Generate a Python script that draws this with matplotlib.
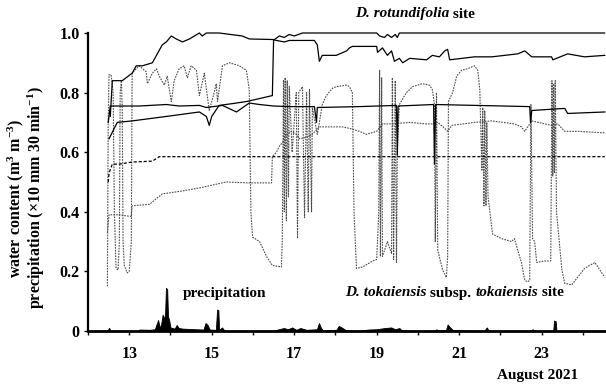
import matplotlib
matplotlib.use('Agg')
import matplotlib.pyplot as plt

plt.rcParams['font.family'] = 'serif'
plt.rcParams['font.serif'] = ['Liberation Serif']
plt.rcParams['font.weight'] = 'bold'
plt.rcParams['mathtext.fontset'] = 'custom'
plt.rcParams['mathtext.rm'] = 'Liberation Serif:bold'
plt.rcParams['mathtext.it'] = 'Liberation Serif:italic:bold'
plt.rcParams['mathtext.bf'] = 'Liberation Serif:bold'
plt.rcParams['mathtext.default'] = 'rm'

# (day of August 2021, value)
# D. rotundifolia site - solid lines
rot_top = [(12.54, 0.72), (12.59, 0.84), (12.83, 0.84), (13.07, 0.865), (13.17, 0.89), (13.32, 0.89),
           (13.56, 0.90), (13.68, 0.93), (13.80, 0.96), (13.90, 0.97), (14.02, 0.99), (14.14, 0.98),
           (14.29, 0.97), (14.46, 0.98), (14.70, 1.0), (14.77, 0.99), (14.87, 1.0), (15.18, 1.0),
           (15.74, 0.99), (15.91, 0.98), (16.52, 0.978), (16.64, 0.99), (16.76, 0.985), (16.88, 0.995),
           (17.00, 0.99), (17.20, 1.0), (19.00, 1.0), (19.07, 0.99), (19.19, 0.985), (19.26, 0.995),
           (19.36, 0.985), (19.45, 0.995), (19.50, 0.985), (19.55, 1.0), (24.53, 1.0)]
rot_step = [(12.51, 0.645), (12.71, 0.70), (13.07, 0.705), (13.90, 0.72), (14.70, 0.735), (14.87, 0.72),
            (14.94, 0.69), (15.00, 0.72), (15.18, 0.757), (15.50, 0.763), (15.84, 0.77), (16.16, 0.78),
            (16.47, 0.79), (16.50, 0.977), (16.57, 0.975), (16.76, 0.97), (16.88, 0.975), (17.05, 0.975),
            (17.49, 0.975), (17.56, 0.96), (17.61, 0.905), (17.68, 0.925), (18.02, 0.925), (18.27, 0.94),
            (18.34, 0.95), (18.41, 0.955), (19.00, 0.955), (19.02, 0.935), (19.14, 0.95), (19.26, 0.925),
            (19.36, 0.94), (19.43, 0.905), (19.55, 0.915), (19.63, 0.90), (19.80, 0.915), (20.21, 0.91),
            (20.35, 0.925), (20.52, 0.92), (20.65, 0.94), (20.72, 0.945), (20.77, 0.91), (21.37, 0.92),
            (21.79, 0.92), (22.42, 0.93), (22.59, 0.94), (22.76, 0.92), (23.24, 0.92), (23.27, 0.91),
            (23.63, 0.93), (24.04, 0.92), (24.53, 0.925)]
rot_mid = [(12.49, 0.70), (12.54, 0.755), (13.24, 0.755), (13.90, 0.76), (14.21, 0.755), (14.70, 0.757),
           (14.87, 0.75), (15.26, 0.757), (15.60, 0.735), (15.91, 0.765), (16.16, 0.76), (16.50, 0.755),
           (16.88, 0.753), (17.49, 0.753), (17.54, 0.70), (17.56, 0.75), (18.58, 0.753), (19.48, 0.757),
           (19.50, 0.59), (19.52, 0.755), (20.38, 0.76), (20.40, 0.56), (20.43, 0.76), (22.71, 0.753),
           (22.73, 0.70), (22.76, 0.74), (23.56, 0.747), (23.63, 0.73), (24.53, 0.735)]

# D. tokaiensis subsp. tokaiensis site - dotted lines
tok_flat = [(12.49, 0.50), (12.51, 0.53), (12.59, 0.56), (12.76, 0.56), (13.07, 0.567), (13.56, 0.57),
            (13.73, 0.585), (24.53, 0.585)]
tok_low = [(12.47, 0.33), (12.51, 0.39), (12.76, 0.39), (13.00, 0.385), (13.05, 0.385), (13.07, 0.42),
           (13.49, 0.425), (13.80, 0.46), (14.29, 0.47), (14.70, 0.48), (15.35, 0.50), (15.91, 0.497),
           (16.45, 0.497), (16.47, 0.585), (16.57, 0.60), (16.64, 0.62), (16.76, 0.64), (16.83, 0.66),
           (16.93, 0.67), (17.05, 0.66), (17.13, 0.645), (17.30, 0.65), (17.44, 0.66), (17.61, 0.685),
           (18.17, 0.685), (18.34, 0.68), (18.58, 0.67), (18.75, 0.66), (19.00, 0.67), (19.14, 0.695),
           (19.38, 0.695), (19.80, 0.70), (20.21, 0.695), (20.40, 0.695), (20.48, 0.70), (20.65, 0.68),
           (20.72, 0.67), (20.82, 0.69), (21.37, 0.70), (21.79, 0.705), (22.34, 0.695), (22.51, 0.685),
           (22.59, 0.67), (22.76, 0.705), (23.24, 0.69), (23.39, 0.695), (23.56, 0.67), (23.87, 0.67),
           (24.53, 0.665)]
tok_swing = [(12.47, 0.15), (12.49, 0.70), (12.51, 0.86), (12.56, 0.86), (12.61, 0.80), (12.64, 0.40),
             (12.68, 0.21), (12.73, 0.205), (12.76, 0.30), (12.78, 0.80), (12.81, 0.84), (12.83, 0.75),
             (12.85, 0.30), (12.88, 0.22), (12.95, 0.195), (13.00, 0.20), (13.05, 0.30), (13.07, 0.865),
             (13.17, 0.88), (13.24, 0.89), (13.41, 0.87), (13.44, 0.83), (13.56, 0.865), (13.66, 0.88),
             (13.73, 0.855), (13.85, 0.825), (13.92, 0.855), (14.02, 0.77), (14.09, 0.84), (14.21, 0.88),
             (14.33, 0.89), (14.41, 0.85), (14.50, 0.89), (14.63, 0.875), (14.70, 0.79), (14.82, 0.865),
             (14.94, 0.74), (15.06, 0.80), (15.11, 0.83), (15.14, 0.77), (15.26, 0.89), (15.43, 0.90),
             (15.67, 0.89), (15.84, 0.875), (15.91, 0.81), (15.95, 0.40), (15.99, 0.315), (16.16, 0.30),
             (16.33, 0.25), (16.47, 0.22), (16.69, 0.215), (16.71, 0.30), (16.74, 0.84), (16.76, 0.40),
             (16.78, 0.85), (16.81, 0.37), (16.83, 0.84), (16.86, 0.45), (16.88, 0.82), (16.95, 0.60),
             (17.05, 0.80), (17.08, 0.31), (17.11, 0.80), (17.20, 0.82), (17.25, 0.38), (17.30, 0.80),
             (17.34, 0.40), (17.37, 0.81), (17.42, 0.40), (17.44, 0.75), (17.56, 0.66), (17.61, 0.70),
             (17.68, 0.76), (17.78, 0.79), (17.93, 0.815), (18.02, 0.82), (18.27, 0.825), (18.34, 0.82),
             (18.41, 0.80), (18.45, 0.40), (18.51, 0.21), (18.66, 0.215), (18.90, 0.235), (19.00, 0.24),
             (19.05, 0.40), (19.07, 0.875), (19.09, 0.25), (19.12, 0.85), (19.14, 0.25), (19.26, 0.30),
             (19.36, 0.26), (19.38, 0.85), (19.41, 0.24), (19.45, 0.84), (19.48, 0.23), (19.50, 0.60),
             (19.55, 0.76), (19.72, 0.80), (19.87, 0.82), (20.11, 0.83), (20.28, 0.825), (20.35, 0.81),
             (20.40, 0.76), (20.42, 0.30), (20.45, 0.80), (20.48, 0.27), (20.60, 0.205), (20.69, 0.18),
             (20.72, 0.25), (20.74, 0.77), (20.84, 0.80), (20.94, 0.855), (21.06, 0.875), (21.20, 0.88),
             (21.37, 0.89), (21.45, 0.875), (21.50, 0.81), (21.55, 0.54), (21.57, 0.75), (21.60, 0.42),
             (21.62, 0.74), (21.65, 0.42), (21.67, 0.70), (21.70, 0.45), (21.81, 0.325), (22.03, 0.31),
             (22.27, 0.30), (22.34, 0.31), (22.39, 0.285), (22.51, 0.23), (22.59, 0.17), (22.66, 0.165),
             (22.71, 0.17), (22.74, 0.76), (22.78, 0.31), (22.83, 0.30), (22.88, 0.23), (23.07, 0.235),
             (23.22, 0.235), (23.25, 0.84), (23.27, 0.52), (23.29, 0.83), (23.31, 0.53), (23.33, 0.84),
             (23.36, 0.40), (23.49, 0.205), (23.56, 0.16), (23.73, 0.155), (23.87, 0.18), (24.04, 0.21),
             (24.29, 0.23), (24.46, 0.195), (24.53, 0.18)]

# precipitation (x10 mm 30 min-1)
precip = [(12.47, 0), (12.51, 0.011), (12.55, 0), (13.2, 0), (13.25, 0.005), (13.5, 0.004),
          (13.62, 0.006), (13.70, 0.037), (13.74, 0.012), (13.77, 0.02), (13.81, 0.055), (13.85, 0.04),
          (13.87, 0.06), (13.89, 0.145), (13.92, 0.14), (13.94, 0.05), (13.97, 0.035), (14.0, 0.012),
          (14.10, 0.008), (14.15, 0.02), (14.2, 0.01), (14.3, 0.008), (14.6, 0.006), (14.80, 0.005),
          (14.85, 0.027), (14.9, 0.02), (14.95, 0.005), (15.10, 0.004), (15.13, 0.072), (15.16, 0.07),
          (15.18, 0.004), (15.25, 0.012), (15.3, 0.003), (15.4, 0), (16.5, 0), (16.6, 0.005),
          (16.75, 0.01), (16.85, 0.006), (16.95, 0.012), (17.05, 0.004), (17.15, 0.01), (17.3, 0.004),
          (17.55, 0.006), (17.6, 0.027), (17.65, 0.01), (17.7, 0.002), (18.02, 0.004), (18.08, 0.017),
          (18.15, 0.012), (18.25, 0.003), (18.5, 0), (18.8, 0.005), (19.0, 0.006), (19.2, 0.01),
          (19.35, 0.012), (19.45, 0.006), (19.55, 0.01), (19.6, 0.003), (19.8, 0), (20.4, 0),
          (20.45, 0.006), (20.5, 0), (20.68, 0.004), (20.72, 0.022), (20.78, 0.012), (20.85, 0.003),
          (21.6, 0), (21.67, 0.012), (21.72, 0), (22.72, 0), (22.78, 0.006), (22.85, 0), (23.28, 0),
          (23.30, 0.035), (23.34, 0.033), (23.36, 0), (24.53, 0)]

W, H = 606, 385
fig = plt.figure(figsize=(W/100, H/100), dpi=100)
ax = fig.add_axes([88/W, 1 - 331/H, 518/W, 298/H])

dot = (0, (1.5, 1.0))
for s in [tok_low, tok_swing]:
    xs, ys = zip(*s)
    ax.plot(xs, ys, color='0.3', lw=0.8, ls=dot)
xs, ys = zip(*tok_flat)
ax.plot(xs, ys, color='k', lw=0.9, ls=(0, (2.5, 1.5)))
for s in [rot_top, rot_step, rot_mid]:
    xs, ys = zip(*s)
    ax.plot(xs, ys, color='k', lw=0.9, clip_on=False)

xs, ys = zip(*precip)
ax.fill_between(xs, 0, ys, color='k', lw=0.6)

ax.set_xlim(12.0, 24.56)
ax.set_ylim(0, 1.0)
ax.set_xticks(range(12, 25))
ax.set_xticklabels(['' if d % 2 == 0 else str(d) for d in range(12, 25)])
ax.set_yticks([0, 0.2, 0.4, 0.6, 0.8, 1.0])
ax.set_yticklabels(['0', '0.2', '0.4', '0.6', '0.8', '1.0'])
ax.tick_params(axis='x', direction='out', length=3, width=1, pad=8, labelsize=11.5)
ax.tick_params(axis='y', direction='out', length=3, width=1, pad=3, labelsize=11.5)
for side in ['top', 'right']:
    ax.spines[side].set_visible(False)
ax.spines['left'].set_linewidth(1.6)
ax.spines['bottom'].set_linewidth(2.0)


def rich(x0, yc, parts, size=11):
    # place text pieces one after another, in pixels from the top-left
    r = fig.canvas.get_renderer()
    x = x0
    for s, st in parts:
        t = fig.text(x/W, 1 - yc/H, s, style=st, fontweight='bold', fontsize=size,
                     va='center', ha='left')
        x += t.get_window_extent(renderer=r).width


rich(355, 14, [('D. rotundifolia', 'italic'), (' site', 'normal')])
rich(183, 293, [('precipitation', 'normal')])
rich(345, 293, [('D. tokaiensis', 'italic'), (' subsp. ', 'normal'), ('tokaiensis', 'italic'),
                (' site', 'normal')])

fig.text(538/W, 1 - 376/H, 'August 2021', fontsize=11, ha='center', va='center')
fig.text(16/W, 1 - 198/H, r'water content (m$^{3}$ m$^{-3}$)', fontsize=11.5, rotation=90,
         ha='center', va='center')
fig.text(36/W, 1 - 198/H, r'precipitation ($\times$10 mm 30 min$^{-1}$)', fontsize=11.5, rotation=90,
         ha='center', va='center')

fig.savefig('out.png', dpi=100)
